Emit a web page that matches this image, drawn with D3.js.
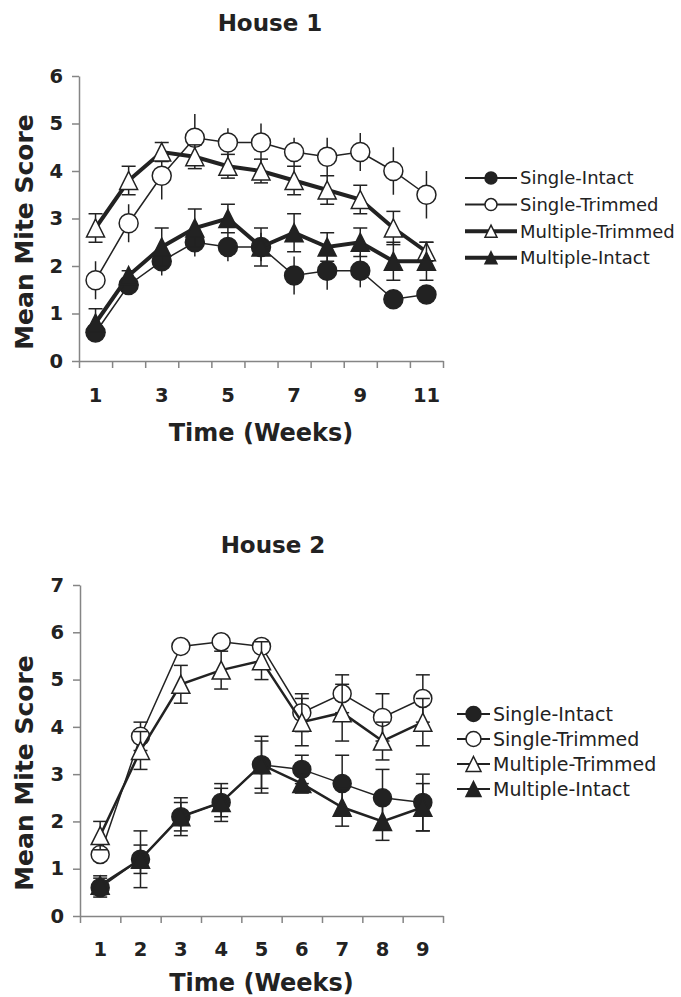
<!DOCTYPE html>
<html>
<head>
<meta charset="utf-8">
<script src="https://cdn.jsdelivr.net/npm/d3@7"></script>
<style>
  body { margin: 0; background: #fff; }
  text { font-family: "DejaVu Sans", Verdana, sans-serif; fill: #222; }
</style>
</head>
<body>
<div class="chart"></div>
<script>
var svgWidth = 681;
var svgHeight = 997;

// series names (legend order = draw order)
var seriesNames = ["Single-Intact", "Single-Trimmed", "Multiple-Trimmed", "Multiple-Intact"];

// House 1
var weeks1 = [1, 2, 3, 4, 5, 6, 7, 8, 9, 10, 11];
var weekLabels1 = [1, 3, 5, 7, 9, 11];
var h1SingleIntact = [0.6, 1.6, 2.1, 2.5, 2.4, 2.4, 1.8, 1.9, 1.9, 1.3, 1.4];
var h1SingleIntactErr = [0.1, 0.2, 0.3, 0.3, 0.3, 0.3, 0.4, 0.4, 0.35, 0.1, 0.1];
var h1SingleTrimmed = [1.7, 2.9, 3.9, 4.7, 4.6, 4.6, 4.4, 4.3, 4.4, 4.0, 3.5];
var h1SingleTrimmedErr = [0.4, 0.4, 0.5, 0.5, 0.3, 0.4, 0.3, 0.4, 0.4, 0.5, 0.5];
var h1MultipleTrimmed = [2.8, 3.8, 4.4, 4.3, 4.1, 4.0, 3.8, 3.6, 3.4, 2.8, 2.3];
var h1MultipleTrimmedErr = [0.3, 0.3, 0.2, 0.25, 0.25, 0.25, 0.3, 0.3, 0.3, 0.35, 0.2];
var h1MultipleIntact = [0.8, 1.8, 2.4, 2.8, 3.0, 2.4, 2.7, 2.4, 2.5, 2.1, 2.1];
var h1MultipleIntactErr = [0.3, 0.1, 0.4, 0.4, 0.3, 0.4, 0.4, 0.3, 0.3, 0.4, 0.4];

// House 2
var weeks2 = [1, 2, 3, 4, 5, 6, 7, 8, 9];
var weekLabels2 = [1, 2, 3, 4, 5, 6, 7, 8, 9];
var h2SingleIntact = [0.6, 1.2, 2.1, 2.4, 3.2, 3.1, 2.8, 2.5, 2.4];
var h2SingleIntactErr = [0.2, 0.6, 0.4, 0.4, 0.6, 0.3, 0.6, 0.6, 0.6];
var h2SingleTrimmed = [1.3, 3.8, 5.7, 5.8, 5.7, 4.3, 4.7, 4.2, 4.6];
var h2SingleTrimmedErr = [0.1, 0.3, 0.1, 0.1, 0.1, 0.4, 0.4, 0.5, 0.5];
var h2MultipleTrimmed = [1.7, 3.5, 4.9, 5.2, 5.4, 4.1, 4.3, 3.7, 4.1];
var h2MultipleTrimmedErr = [0.3, 0.4, 0.4, 0.4, 0.4, 0.5, 0.6, 0.4, 0.5];
var h2MultipleIntact = [0.65, 1.2, 2.1, 2.4, 3.2, 2.8, 2.3, 2.0, 2.3];
var h2MultipleIntactErr = [0.2, 0.3, 0.3, 0.3, 0.5, 0.2, 0.4, 0.4, 0.5];

var ink = "#222";
var axisGray = "#858585";

// triangle centred on its bounding box, like the spreadsheet marker
var boxTriangle = {
  draw: function(context, size) {
    var s = Math.sqrt(size);
    context.moveTo(0, -s / 2);
    context.lineTo(s / 2, s / 2);
    context.lineTo(-s / 2, s / 2);
    context.closePath();
  }
};

var svg = d3.select(".chart")
  .append("svg")
  .attr("width", svgWidth)
  .attr("height", svgHeight);

function drawPanel(p) {
  var g = svg.append("g");

  var x = d3.scaleBand().domain(p.weeks).range([p.left, p.right]);
  var xEdges = d3.scaleLinear().domain([0, p.weeks.length]).range([p.left, p.right]);
  var y = d3.scaleLinear().domain([0, p.yMax]).range([p.bottom, p.top]);

  // axes
  var yAxis = g.append("g")
    .attr("transform", `translate(${p.left},0)`)
    .call(d3.axisLeft(y).ticks(p.yMax).tickSize(7).tickSizeOuter(0).tickPadding(9));

  var xTicks = g.append("g")
    .attr("transform", `translate(0,${p.bottom})`)
    .call(d3.axisBottom(xEdges).tickValues(d3.range(0, p.weeks.length + 1)).tickSize(7).tickSizeOuter(0).tickFormat(""));

  var xLabels = g.append("g")
    .attr("transform", `translate(0,${p.bottom})`)
    .call(d3.axisBottom(x).tickValues(p.labels).tickSize(0).tickPadding(p.labelPad));
  xLabels.select(".domain").remove();

  g.selectAll(".domain, .tick line").attr("stroke", axisGray).attr("stroke-width", 1.5);
  g.selectAll(".tick text")
    .attr("font-family", "'DejaVu Sans', Verdana, sans-serif")
    .attr("font-size", 19.5)
    .attr("font-weight", "bold")
    .attr("fill", ink);

  // titles
  g.append("text")
    .attr("x", p.titleX)
    .attr("y", p.titleY)
    .attr("text-anchor", "middle")
    .attr("font-size", 23)
    .attr("font-weight", "bold")
    .text(p.title);

  g.append("text")
    .attr("transform", "rotate(-90)")
    .attr("x", -p.yTitleY)
    .attr("y", 33)
    .attr("text-anchor", "middle")
    .attr("font-size", 25)
    .attr("font-weight", "bold")
    .text("Mean Mite Score");

  g.append("text")
    .attr("x", (p.left + p.right) / 2)
    .attr("y", p.xTitleY)
    .attr("text-anchor", "middle")
    .attr("font-size", 24)
    .attr("font-weight", "bold")
    .text("Time (Weeks)");

  var line = d3.line()
    .x(d => x(d.week) + x.bandwidth() / 2)
    .y(d => y(d.value));

  p.series.forEach(function(s, i) {
    var pts = p.weeks.map((w, k) => ({ week: w, value: s.values[k], err: s.errs[k] }));
    var sg = g.append("g");
    var cx = d => x(d.week) + x.bandwidth() / 2;

    sg.selectAll("line.err")
      .data(pts)
      .enter()
      .append("line")
      .attr("x1", cx).attr("x2", cx)
      .attr("y1", d => y(d.value - d.err))
      .attr("y2", d => y(d.value + d.err))
      .attr("stroke", ink)
      .attr("stroke-width", 1.5);

    if (s.caps) {
      [1, -1].forEach(function(sign) {
        sg.selectAll(null)
          .data(pts)
          .enter()
          .append("line")
          .attr("x1", d => cx(d) - 7).attr("x2", d => cx(d) + 7)
          .attr("y1", d => y(d.value + sign * d.err))
          .attr("y2", d => y(d.value + sign * d.err))
          .attr("stroke", ink)
          .attr("stroke-width", 1.5);
      });
    }

    sg.append("path")
      .datum(pts)
      .attr("d", line)
      .attr("fill", "none")
      .attr("stroke", ink)
      .attr("stroke-width", s.width);

    var sym = d3.symbol()
      .type(s.shape === "circle" ? d3.symbolCircle : boxTriangle)
      .size(s.shape === "circle" ? Math.PI * p.circleR * p.circleR : p.triSide * p.triSide);

    sg.selectAll("path.marker")
      .data(pts)
      .enter()
      .append("path")
      .attr("class", "marker")
      .attr("transform", d => `translate(${cx(d)},${y(d.value)})`)
      .attr("d", sym)
      .attr("fill", s.filled ? ink : "#fff")
      .attr("stroke", ink)
      .attr("stroke-width", 1.5);

    // legend row
    var ly = p.legendY + i * p.legendStep;
    var lg = g.append("g");
    lg.append("line")
      .attr("x1", p.legendX).attr("x2", p.legendX + p.legendLen)
      .attr("y1", ly).attr("y2", ly)
      .attr("stroke", ink)
      .attr("stroke-width", s.legendWidth);
    var lsym = d3.symbol()
      .type(s.shape === "circle" ? d3.symbolCircle : boxTriangle)
      .size(s.shape === "circle" ? Math.PI * p.legendR * p.legendR : p.legendTri * p.legendTri);
    lg.append("path")
      .attr("transform", `translate(${p.legendX + p.legendLen / 2},${ly})`)
      .attr("d", lsym)
      .attr("fill", s.filled ? ink : "#fff")
      .attr("stroke", ink)
      .attr("stroke-width", 1.5);
    lg.append("text")
      .attr("x", p.legendX + p.legendLen + 3)
      .attr("y", ly)
      .attr("dy", "0.36em")
      .attr("font-size", p.legendFont)
      .text(seriesNames[i]);
  });
}

drawPanel({
  title: "House 1", titleX: 270, titleY: 31,
  weeks: weeks1, labels: weekLabels1, yMax: 6,
  left: 79, right: 443, top: 76, bottom: 361,
  labelPad: 27, xTitleY: 441, yTitleY: 232,
  circleR: 9.5, triSide: 18,
  legendX: 465, legendLen: 52, legendY: 178, legendStep: 26.6, legendR: 6, legendTri: 12, legendFont: 18,
  series: [
    { values: h1SingleIntact, errs: h1SingleIntactErr, shape: "circle", filled: true, width: 1.5, legendWidth: 2, caps: false },
    { values: h1SingleTrimmed, errs: h1SingleTrimmedErr, shape: "circle", filled: false, width: 1.5, legendWidth: 2, caps: false },
    { values: h1MultipleTrimmed, errs: h1MultipleTrimmedErr, shape: "triangle", filled: false, width: 4, legendWidth: 4, caps: true },
    { values: h1MultipleIntact, errs: h1MultipleIntactErr, shape: "triangle", filled: true, width: 4, legendWidth: 4, caps: true }
  ]
});

drawPanel({
  title: "House 2", titleX: 273, titleY: 553,
  weeks: weeks2, labels: weekLabels2, yMax: 7,
  left: 80, right: 443, top: 585, bottom: 916,
  labelPad: 26, xTitleY: 991, yTitleY: 773,
  circleR: 9, triSide: 18,
  legendX: 457, legendLen: 33, legendY: 714, legendStep: 25, legendR: 7.5, legendTri: 15, legendFont: 19,
  series: [
    { values: h2SingleIntact, errs: h2SingleIntactErr, shape: "circle", filled: true, width: 1.5, legendWidth: 2, caps: true },
    { values: h2SingleTrimmed, errs: h2SingleTrimmedErr, shape: "circle", filled: false, width: 1.5, legendWidth: 2, caps: true },
    { values: h2MultipleTrimmed, errs: h2MultipleTrimmedErr, shape: "triangle", filled: false, width: 2.5, legendWidth: 2, caps: true },
    { values: h2MultipleIntact, errs: h2MultipleIntactErr, shape: "triangle", filled: true, width: 2.5, legendWidth: 2, caps: true }
  ]
});
</script>
</body>
</html>
